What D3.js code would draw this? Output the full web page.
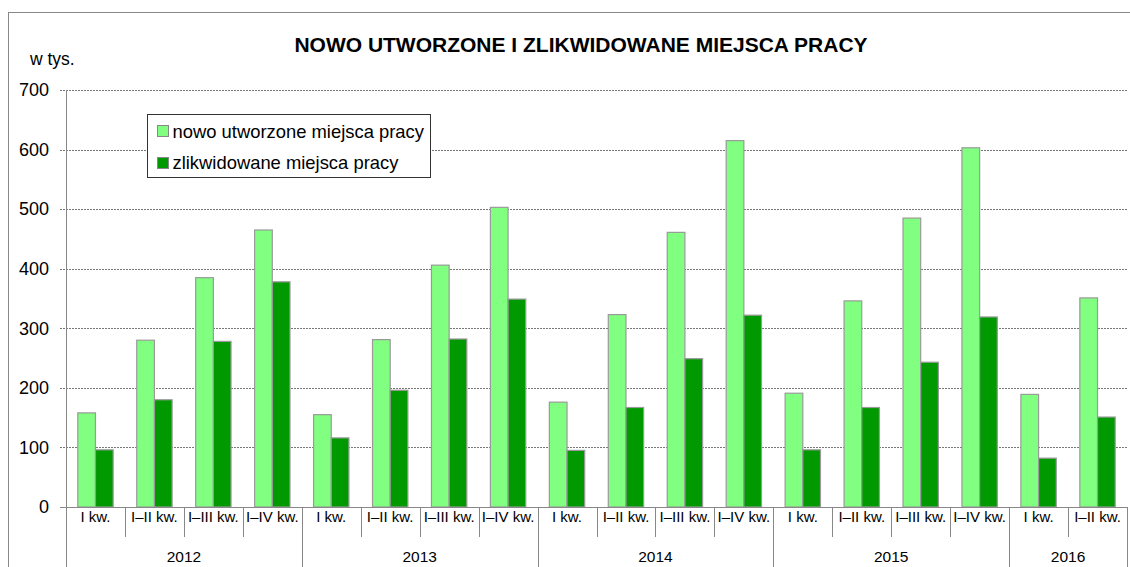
<!DOCTYPE html>
<html>
<head>
<meta charset="utf-8">
<script src="https://cdn.jsdelivr.net/npm/d3@7"></script>
<style>
  body { margin: 0; background: #fff; }
  svg { font-family: "Liberation Sans", Arial, sans-serif; }
</style>
</head>
<body>
<div id="chart"></div>
<script>
var years = ["2012", "2013", "2014", "2015", "2016"];
var quarters = ["I kw.", "I–II kw.", "I–III kw.", "I–IV kw."];
var yearQuarters = [4, 4, 4, 4, 2];
var created = [158, 280, 385, 465, 155, 281, 406, 503, 176, 323, 461, 615, 191, 346, 485, 603, 189, 351];
var liquidated = [96, 180, 278, 378, 116, 196, 282, 349, 95, 167, 249, 322, 96, 167, 243, 319, 82, 151];
var yTicks = [0, 100, 200, 300, 400, 500, 600, 700];
var seriesNames = ["nowo utworzone miejsca pracy", "zlikwidowane miejsca pracy"];
var colors = ["#80ff80", "#009900"];

// one entry per bar group
var df = [];
years.forEach(function(y, i) {
    for (var q = 0; q < yearQuarters[i]; q++) {
        df.push({year: y, quarter: quarters[q], key: y + "-" + q});
    }
});
df.forEach(function(d, i) { d.values = [created[i], liquidated[i]]; });

var width = 1130, height = 567;
var margin = {top: 90, left: 66, right: 3, bottom: 60};
var plotW = width - margin.left - margin.right,
    plotH = height - margin.top - margin.bottom;

var svg = d3.select("#chart").append("svg")
    .attr("width", width)
    .attr("height", height);

// outer frame
svg.append("rect")
    .attr("x", 8.5).attr("y", 12.5)
    .attr("width", width).attr("height", height)
    .attr("fill", "none").attr("stroke", "#888");

var x = d3.scaleBand()
    .domain(df.map(function(d) { return d.key; }))
    .range([0, plotW]);
var x1 = d3.scaleBand()
    .domain([0, 1])
    .range([x.bandwidth() * 0.2, x.bandwidth() * 0.8]);
var y = d3.scaleLinear().domain([0, 700]).range([plotH, 0]);

var g = svg.append("g").attr("transform", `translate(${margin.left}, ${margin.top})`);

// grid
g.selectAll(".grid").data(yTicks.filter(function(t) { return t > 0; }))
    .enter().append("line")
    .attr("x1", -6).attr("x2", plotW)
    .attr("y1", function(d) { return Math.round(y(d)) + 0.5; })
    .attr("y2", function(d) { return Math.round(y(d)) + 0.5; })
    .attr("stroke", "#777").attr("stroke-dasharray", "2,1");

g.selectAll(".ylab").data(yTicks)
    .enter().append("text")
    .attr("x", -17).attr("y", function(d) { return y(d); })
    .attr("dy", "0.35em")
    .attr("text-anchor", "end")
    .attr("font-size", 18)
    .text(function(d) { return d; });

// bars
var groups = g.selectAll(".grp").data(df).enter().append("g")
    .attr("transform", function(d) { return `translate(${x(d.key)}, 0)`; });
groups.selectAll("rect").data(function(d) { return d.values; })
    .enter().append("rect")
    .attr("x", function(d, i) { return x1(i); })
    .attr("width", x1.bandwidth())
    .attr("y", function(d) { return y(d); })
    .attr("height", function(d) { return plotH - y(d); })
    .attr("fill", function(d, i) { return colors[i]; })
    .attr("stroke", "#9a9a9a").attr("stroke-width", 1.2);

// axes lines
g.append("line").attr("x1", 0.5).attr("x2", 0.5).attr("y1", 0).attr("y2", height)
    .attr("stroke", "#888");
g.append("line").attr("x1", -6).attr("x2", plotW).attr("y1", plotH + 0.5).attr("y2", plotH + 0.5)
    .attr("stroke", "#888");

// quarter ticks and labels
g.selectAll(".qtick").data(df).enter().append("line")
    .attr("x1", function(d) { return Math.round(x(d.key) + x.bandwidth()) + 0.5; })
    .attr("x2", function(d) { return Math.round(x(d.key) + x.bandwidth()) + 0.5; })
    .attr("y1", plotH).attr("y2", plotH + 30)
    .attr("stroke", "#888");
g.selectAll(".qlab").data(df).enter().append("text")
    .attr("x", function(d) { return x(d.key) + x.bandwidth() / 2; })
    .attr("y", plotH + 15)
    .attr("text-anchor", "middle")
    .attr("font-size", 15)
    .text(function(d) { return d.quarter; });

// year separators and labels
var start = 0;
years.forEach(function(yr, i) {
    var k0 = df[start].key, k1 = df[start + yearQuarters[i] - 1].key;
    var xa = x(k0), xb = x(k1) + x.bandwidth();
    g.append("line")
        .attr("x1", Math.round(xb) + 0.5).attr("x2", Math.round(xb) + 0.5)
        .attr("y1", plotH).attr("y2", height)
        .attr("stroke", "#888");
    g.append("text")
        .attr("x", (xa + xb) / 2).attr("y", plotH + 55)
        .attr("text-anchor", "middle")
        .attr("font-size", 15.5)
        .text(yr);
    start += yearQuarters[i];
});

// titles
svg.append("text")
    .attr("x", 581).attr("y", 52)
    .attr("text-anchor", "middle")
    .attr("font-size", 21).attr("font-weight", "bold")
    .text("NOWO UTWORZONE I ZLIKWIDOWANE MIEJSCA PRACY");
svg.append("text")
    .attr("x", 30).attr("y", 65)
    .attr("font-size", 17.5)
    .text("w tys.");

// legend
var legend = svg.append("g").attr("transform", "translate(147.5, 114.5)");
legend.append("rect")
    .attr("width", 283).attr("height", 63)
    .attr("fill", "#fff").attr("stroke", "#333");
seriesNames.forEach(function(name, i) {
    legend.append("rect")
        .attr("x", 10).attr("y", 11 + i * 32)
        .attr("width", 11).attr("height", 11)
        .attr("fill", colors[i]).attr("stroke", "#888");
    legend.append("text")
        .attr("x", 25).attr("y", 23 + i * 31)
        .attr("font-size", 18.4)
        .text(name);
});
</script>
</body>
</html>
